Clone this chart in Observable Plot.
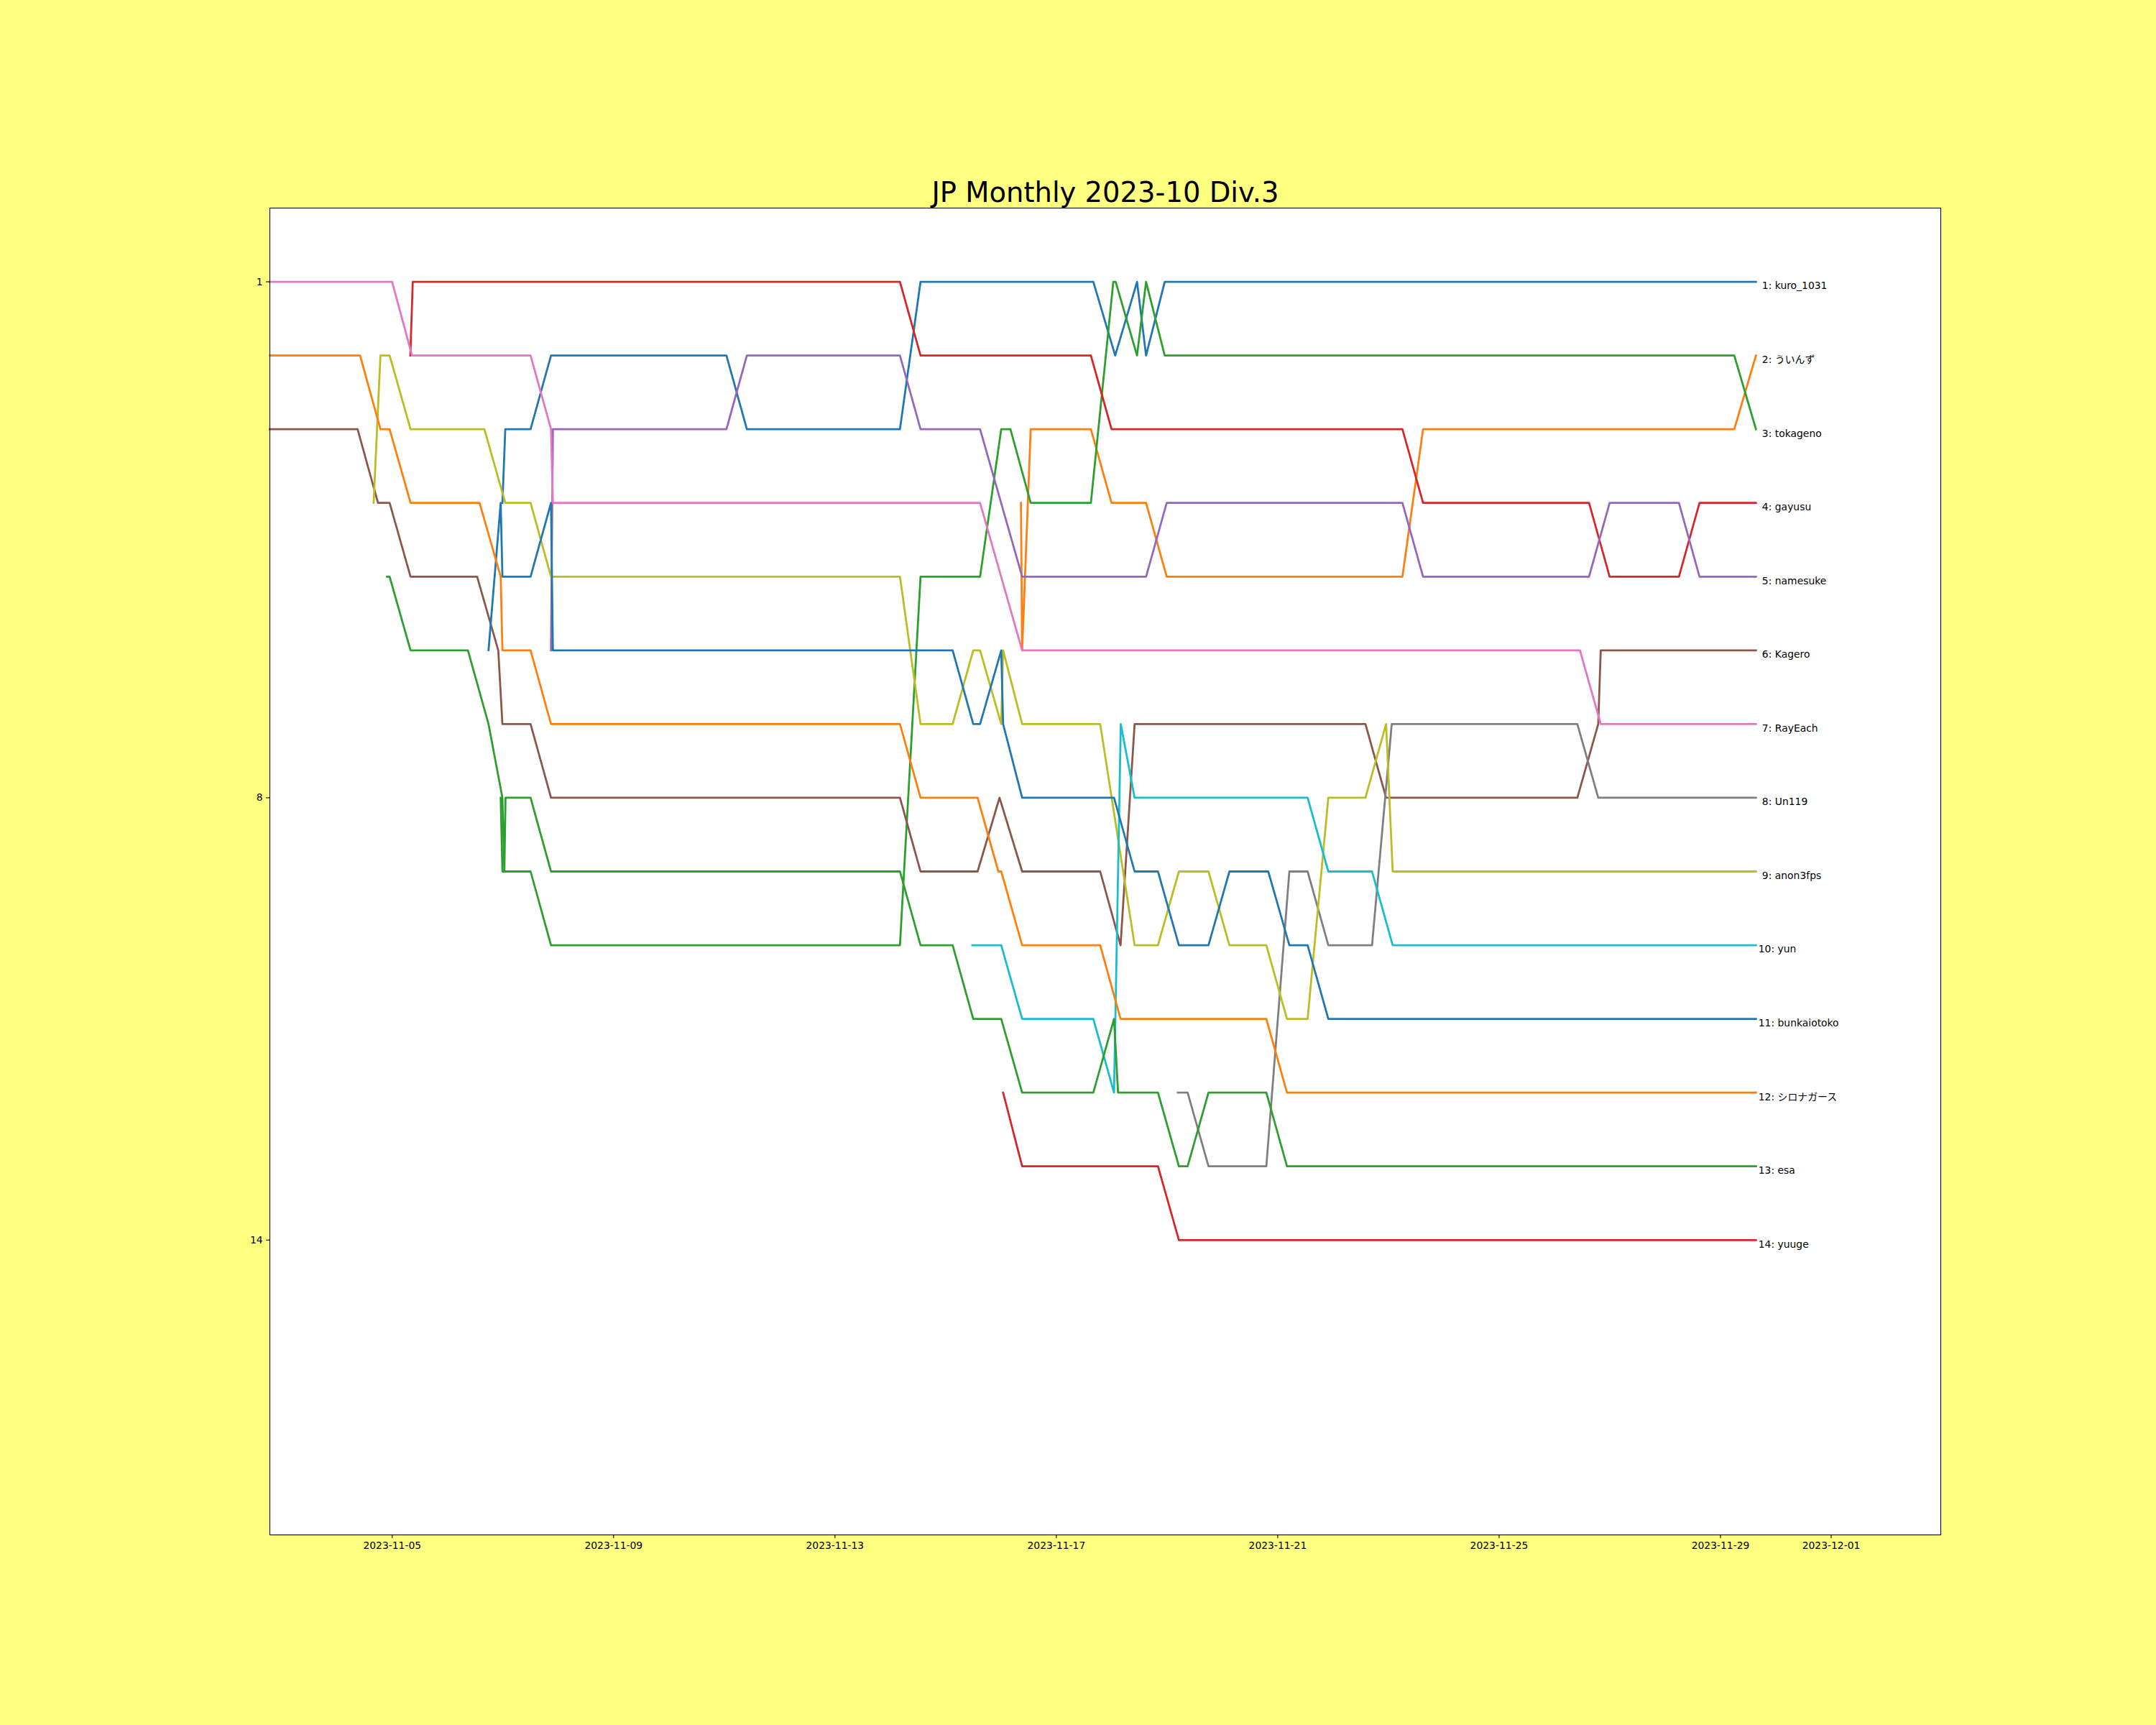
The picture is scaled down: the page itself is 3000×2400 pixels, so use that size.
<!DOCTYPE html>
<html>
<head>
<meta charset="utf-8">
<script src="https://cdn.jsdelivr.net/npm/d3@7"></script>
<script src="https://cdn.jsdelivr.net/npm/@observablehq/plot@0.6"></script>
<style>
  html, body { margin: 0; padding: 0; background: #ffff80; }
  #chart { width: 3000px; height: 2400px; }
</style>
</head>
<body>
<div id="chart"></div>
<script>
// ---------- data ----------
const title = "JP Monthly 2023-10 Div.3";

// players, in final-rank order
const players = ["kuro_1031", "ういんず", "tokageno", "gayusu", "namesuke", "Kagero", "RayEach",
  "Un119", "anon3fps", "yun", "bunkaiotoko", "シロナガース", "esa", "yuuge"];

// tab10 palette (cycled over the players)
const tab10 = ["#1f77b4", "#ff7f0e", "#2ca02c", "#d62728", "#9467bd", "#8c564b", "#e377c2",
  "#7f7f7f", "#bcbd22", "#17becf"];

// x ticks, as day of November 2023 (31 = 2023-12-01)
const xTickDays = [5, 9, 13, 17, 21, 25, 29, 31];
const yTicks = [1, 8, 14];
const xDomainDays = [2.789, 32.98];
const yDomain = [0, 18];

// each series: [day of November 2023 (fractional), rank]
const kuro_1031 = [[6.991,4],[7.043,3],[7.500,3],[7.869,2],[11.039,2],[11.408,3],[14.174,3],[14.546,1],[17.668,1],[18.063,2],[18.458,1],[18.621,2],[18.958,1],[29.641,1]];
const uinzu = [[16.360,4],[16.382,6],[16.536,3],[17.624,3],[17.997,4],[18.621,4],[18.994,5],[23.253,5],[23.626,3],[29.249,3],[29.641,2]];
const tokageno = [[6.960,8],[6.991,9],[7.500,9],[7.869,10],[14.174,10],[14.546,5],[15.622,5],[16.004,3],[16.170,3],[16.536,4],[17.624,4],[18.029,1],[18.072,1],[18.458,2],[18.621,1],[18.958,2],[29.249,2],[29.641,3]];
const gayusu = [[5.327,2],[5.371,1],[14.174,1],[14.546,2],[17.624,2],[17.997,3],[23.253,3],[23.626,4],[26.625,4],[26.997,5],[28.249,5],[28.621,4],[29.641,4]];
const namesuke = [[7.869,6],[7.903,3],[11.039,3],[11.408,2],[14.174,2],[14.546,3],[15.622,3],[16.382,5],[18.621,5],[18.994,4],[23.253,4],[23.626,5],[26.625,5],[26.997,4],[28.249,4],[28.621,5],[29.641,5]];
const Kagero = [[2.789,3],[4.374,3],[4.743,4],[4.953,4],[5.331,5],[6.534,5],[6.916,6],[6.991,7],[7.500,7],[7.869,8],[14.174,8],[14.546,9],[15.577,9],[15.973,8],[16.382,9],[17.792,9],[18.160,10],[18.414,7],[22.585,7],[22.958,8],[26.414,8],[26.791,7],[26.836,6],[29.641,6]];
const RayEach = [[2.789,1],[4.998,1],[5.358,2],[7.500,2],[7.869,3],[7.903,4],[15.622,4],[16.382,6],[26.461,6],[26.836,7],[29.641,7]];
const Un119 = [[19.195,12],[19.372,12],[19.749,13],[20.794,13],[21.210,9],[21.540,9],[21.914,10],[22.704,10],[23.060,7],[26.414,7],[26.791,8],[29.641,8]];
const anon3fps = [[4.664,4],[4.787,2],[4.953,2],[5.331,3],[6.665,3],[7.043,4],[7.500,4],[7.869,5],[14.174,5],[14.546,7],[15.126,7],[15.498,6],[15.622,6],[16.004,7],[16.038,6],[16.382,7],[17.792,7],[18.414,10],[18.836,10],[19.214,9],[19.749,9],[20.127,10],[20.794,10],[21.167,11],[21.540,11],[21.914,8],[22.585,8],[22.958,7],[23.077,9],[29.641,9]];
const yun = [[15.481,10],[16.004,10],[16.382,11],[17.668,11],[18.042,12],[18.164,7],[18.414,8],[21.540,8],[21.914,9],[22.704,9],[23.077,10],[29.641,10]];
const bunkaiotoko = [[6.740,6],[6.960,4],[6.991,5],[7.500,5],[7.869,4],[7.903,6],[15.126,6],[15.498,7],[15.622,7],[16.004,6],[16.038,7],[16.382,8],[18.042,8],[18.414,9],[18.836,9],[19.214,10],[19.749,10],[20.127,9],[20.829,9],[21.210,10],[21.540,10],[21.914,11],[29.641,11]];
const shironagasu = [[2.789,2],[4.419,2],[4.787,3],[4.953,3],[5.331,4],[6.578,4],[6.960,5],[6.991,6],[7.500,6],[7.869,7],[14.174,7],[14.546,8],[15.577,8],[15.952,9],[16.004,9],[16.382,10],[17.792,10],[18.160,11],[20.794,11],[21.167,12],[29.641,12]];
const esa = [[4.906,5],[4.953,5],[5.331,6],[6.368,6],[6.740,7],[6.991,8],[7.026,9],[7.047,8],[7.500,8],[7.869,9],[14.174,9],[14.546,10],[15.126,10],[15.498,11],[16.004,11],[16.382,12],[17.668,12],[18.042,11],[18.115,12],[18.836,12],[19.214,13],[19.372,13],[19.749,12],[20.794,12],[21.167,13],[29.641,13]];
const yuuge = [[16.038,12],[16.382,13],[18.836,13],[19.214,14],[29.641,14]];

const series = [kuro_1031, uinzu, tokageno, gayusu, namesuke, Kagero, RayEach,
  Un119, anon3fps, yun, bunkaiotoko, shironagasu, esa, yuuge];

// ---------- build ----------
const toDate = d => new Date(Date.UTC(2023, 10, 1) + (d - 1) * 86400000);
const rows = series.flatMap((s, i) => s.map(([d, r]) => ({player: players[i], t: toDate(d), rank: r})));
const labels = series.map((s, i) => {
  const [d, r] = s[s.length - 1];
  return {player: players[i], t: toDate(d), rank: r, label: `${r}: ${players[i]}`};
});
const colorRange = players.map((p, i) => tab10[i % 10]);
const xTicks = xTickDays.map(toDate);
const fmt = d3.utcFormat("%Y-%m-%d");
const yBottom = yDomain[1];
const font = "'DejaVu Sans', 'Noto Sans CJK JP', sans-serif";

const chart = Plot.plot({
  width: 3000,
  height: 2400,
  marginLeft: 375,
  marginRight: 300,
  marginTop: 289,
  marginBottom: 265,
  style: {background: "#ffff80", fontFamily: font, fontSize: "13.9px", color: "black"},
  x: {type: "utc", domain: xDomainDays.map(toDate), axis: null},
  y: {domain: yDomain, reverse: true, axis: null},
  color: {domain: players, range: colorRange},
  marks: [
    Plot.frame({fill: "white", stroke: null}),
    Plot.line(rows, {x: "t", y: "rank", z: "player", stroke: "player", strokeWidth: 2.78,
      strokeLinejoin: "round", strokeLinecap: "square"}),
    Plot.frame({stroke: "black", strokeWidth: 1.1}),
    // x axis: tick marks and labels just below the frame
    Plot.tickX(xTicks, {x: d => d, frameAnchor: "bottom", stroke: "black", strokeWidth: 1.1,
      insetTop: 2135 - 289, insetBottom: -4.9}),
    Plot.text(xTicks, {x: d => d, y: () => yBottom, text: d => fmt(d), textAnchor: "middle",
      lineAnchor: "middle", dy: 15.5, fontSize: 13.9, fill: "black"}),
    // y axis
    Plot.axisY({ticks: yTicks, tickSize: 4.9, tickPadding: 4.9, strokeWidth: 1.1,
      fontSize: 13.9, label: null, tickFormat: d => String(d)}),
    // end labels
    Plot.text(labels.filter(d => d.rank < 10), {x: "t", y: "rank", text: "label",
      textAnchor: "start", lineAnchor: "top", dx: 8.5, dy: 0.5, fontSize: 13.9, fill: "black"}),
    Plot.text(labels.filter(d => d.rank >= 10), {x: "t", y: "rank", text: "label",
      textAnchor: "start", lineAnchor: "top", dx: 3.4, dy: 0.5, fontSize: 13.9, fill: "black"}),
    Plot.text([title], {frameAnchor: "top", lineAnchor: "bottom", dy: -8.3,
      fontSize: 38.5, fill: "black"})
  ]
});
document.getElementById("chart").appendChild(chart);
</script>
</body>
</html>
